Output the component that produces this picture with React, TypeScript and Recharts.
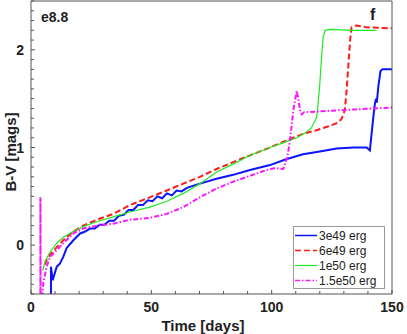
import React from "react";
import { LineChart, Line, XAxis, YAxis, Legend } from "recharts";

// time [days], B-V [mags]
const blue3e49: [number, number][] = [
  [8.3, -0.55], [8.3, -0.22], [9.0, -0.36], [10.7, -0.22], [12.0, -0.19], [13.4, -0.12],
  [14.8, -0.03], [17.6, 0.05], [20.4, 0.12], [22.5, 0.14], [24.5, 0.17], [26.5, 0.17],
  [28.5, 0.21], [30.5, 0.21], [32.5, 0.25], [34.5, 0.25], [36.5, 0.3], [38.5, 0.31],
  [40.5, 0.36], [42.5, 0.36], [44.5, 0.41], [46.5, 0.41], [48.5, 0.46], [50.5, 0.45],
  [52.5, 0.5], [54.5, 0.48], [56.5, 0.53], [58.5, 0.51], [60.5, 0.56], [62.5, 0.55],
  [65, 0.59], [70.2, 0.63], [77.1, 0.68], [84, 0.72], [91, 0.77], [99.3, 0.82],
  [106, 0.88], [113, 0.93], [120, 0.96], [127, 0.99], [134, 1.0], [139.5, 1.0],
  [140.8, 0.97], [142.2, 1.3], [142.9, 1.45], [143.4, 1.5], [143.7, 1.46], [144.3, 1.62],
  [145.2, 1.78], [146, 1.8], [150, 1.8],
];

const red6e49: [number, number][] = [
  [5.8, -0.2], [6.5, -0.15], [7.9, -0.1], [10.7, -0.02], [13.4, 0.05], [17.6, 0.14],
  [21.7, 0.2], [27.3, 0.26], [34.2, 0.32], [41.1, 0.41], [49.4, 0.49], [56.4, 0.56],
  [63.3, 0.63], [70.2, 0.7], [77.1, 0.78], [84, 0.85], [91, 0.92], [99.3, 1.0],
  [106, 1.07], [113, 1.14], [119, 1.18], [124, 1.22], [127, 1.25], [129, 1.29],
  [130.4, 1.38], [131.2, 1.6], [131.8, 1.82], [132.6, 2.1], [133.2, 2.23], [135.3, 2.25],
  [139.5, 2.23], [150, 2.22],
];

const green1e50: [number, number][] = [
  [4.9, -0.26], [5.8, -0.17], [7.9, -0.07], [10.7, 0.02], [13.4, 0.08], [17.6, 0.14],
  [21.7, 0.19], [27.3, 0.24], [34.2, 0.29], [41.1, 0.34], [49.4, 0.39], [56.4, 0.45],
  [63.3, 0.53], [70.2, 0.63], [77.1, 0.75], [84, 0.83], [91, 0.92], [99.3, 1.0],
  [105, 1.05], [110.4, 1.1], [114, 1.15], [116.5, 1.2], [118.7, 1.31], [119.3, 1.45],
  [120, 1.65], [120.8, 1.95], [121.4, 2.13], [122.2, 2.2], [124.2, 2.21], [134, 2.2],
  [143.6, 2.2],
];

const magenta15e50: [number, number][] = [
  [3.9, -0.6], [3.9, 0.49], [4.0, -0.6], [4.5, -0.6], [5.1, -0.39], [6.5, -0.22],
  [7.9, -0.12], [10.7, -0.05], [13.4, 0.02], [17.6, 0.12], [21.7, 0.17], [27.3, 0.2],
  [34.2, 0.22], [41, 0.26], [49.4, 0.28], [56.4, 0.32], [63.3, 0.39], [70.2, 0.49],
  [77.1, 0.58], [84, 0.65], [91, 0.71], [97.9, 0.77], [101.4, 0.79], [104.8, 0.78],
  [106.5, 0.9], [107.6, 1.07], [109, 1.38], [110.4, 1.58], [111.2, 1.48], [111.8, 1.38],
  [112.5, 1.34], [113.5, 1.36], [120, 1.37], [135, 1.39], [150, 1.41],
];

const xTicks = [0, 10, 20, 30, 40, 50, 60, 70, 80, 90, 100, 110, 120, 130, 140, 150];
const xLabels = [0, 50, 100, 150];
const yTicks = [
  -0.5, -0.4, -0.3, -0.2, -0.1, 0, 0.1, 0.2, 0.3, 0.4, 0.5, 0.6, 0.7, 0.8, 0.9, 1, 1.1, 1.2,
  1.3, 1.4, 1.5, 1.6, 1.7, 1.8, 1.9, 2, 2.1, 2.2, 2.3, 2.4, 2.5,
];
const yLabels = [0, 1, 2];

const series = [
  { name: "3e49 erg", data: blue3e49, color: "#0a14ff", width: 2, dash: undefined },
  { name: "6e49 erg", data: red6e49, color: "#ff1a1a", width: 2, dash: "6 3" },
  { name: "1e50 erg", data: green1e50, color: "#1eeb1e", width: 1.2, dash: undefined },
  { name: "1.5e50 erg", data: magenta15e50, color: "#ff14ff", width: 2, dash: "5 2 1.5 2" },
];

const FONT = "'Liberation Sans', Arial, Helvetica, sans-serif";
const AXIS = "#555";

const toPoints = (arr: [number, number][]) => arr.map(([t, v]) => ({ t, v }));

const makeTick = (side: "bottom" | "top" | "left" | "right", labels: number[]) => (props: any) => {
  const { x, y, payload } = props;
  const val = payload.value;
  const major = labels.some((l) => Math.abs(l - val) < 1e-6);
  const len = major ? 4 : 3;
  let x2 = x, y2 = y;
  if (side === "bottom") y2 = y - len;
  if (side === "top") y2 = y + len;
  if (side === "left") x2 = x + len;
  if (side === "right") x2 = x - len;
  return (
    <g>
      <line x1={x} y1={y} x2={x2} y2={y2} stroke={AXIS} strokeWidth={1} />
      {major && side === "bottom" && (
        <text x={x} y={y + 18} textAnchor="middle" fontSize={14} fontWeight="bold" fontFamily={FONT} fill="#222">
          {val}
        </text>
      )}
      {major && side === "left" && (
        <text x={x - 7} y={y + 5} textAnchor="end" fontSize={14} fontWeight="bold" fontFamily={FONT} fill="#222">
          {val}
        </text>
      )}
    </g>
  );
};

const renderLegend = () => (
  <div
    style={{
      border: "1px solid #999",
      background: "#fff",
      width: 90,
      height: 60,
      boxSizing: "content-box",
      paddingTop: 1,
      fontFamily: FONT,
      fontSize: 12,
      color: "#222",
    }}
  >
    {series.map((s) => (
      <div key={s.name} style={{ display: "flex", alignItems: "center", height: 15 }}>
        <svg width={24} height={15} style={{ marginLeft: 1 }}>
          <line x1={0} y1={7.5} x2={22} y2={7.5} stroke={s.color} strokeWidth={s.width === 2 ? 1.5 : 1.2} strokeDasharray={s.dash} />
        </svg>
        <span>{s.name}</span>
      </div>
    ))}
  </div>
);

export default function App() {
  return (
    <div style={{ position: "absolute", left: 0, top: 0, width: 407, height: 334, background: "#fff" }}>
      <LineChart width={407} height={334} margin={{ top: 0, right: 0, bottom: 0, left: 0 }}>
        <XAxis
          dataKey="t"
          type="number"
          domain={[0, 150]}
          ticks={xTicks}
          interval={0}
          allowDataOverflow
          height={40}
          tickSize={0}
          tickMargin={0}
          stroke={AXIS}
          tick={makeTick("bottom", xLabels)}
        />
        <XAxis
          xAxisId="top"
          orientation="top"
          type="number"
          domain={[0, 150]}
          ticks={xTicks}
          interval={0}
          height={1}
          tickSize={0}
          tickMargin={0}
          stroke={AXIS}
          tick={makeTick("top", xLabels)}
        />
        <YAxis
          type="number"
          domain={[-0.5, 2.5]}
          ticks={yTicks}
          interval={0}
          allowDataOverflow
          width={31}
          tickSize={0}
          tickMargin={0}
          stroke={AXIS}
          tick={makeTick("left", yLabels)}
        />
        <YAxis
          yAxisId="right"
          orientation="right"
          type="number"
          domain={[-0.5, 2.5]}
          ticks={yTicks}
          interval={0}
          width={15}
          tickSize={0}
          tickMargin={0}
          stroke={AXIS}
          tick={makeTick("right", yLabels)}
        />
        {series.map((s) => (
          <Line
            key={s.name}
            name={s.name}
            data={toPoints(s.data)}
            dataKey="v"
            type="linear"
            stroke={s.color}
            strokeWidth={s.width}
            strokeDasharray={s.dash}
            dot={false}
            activeDot={false}
            isAnimationActive={false}
          />
        ))}
        <Legend
          layout="vertical"
          align="center"
          verticalAlign="middle"
          content={renderLegend}
          wrapperStyle={{ left: 293, top: 226, width: "auto" }}
        />
      </LineChart>
      <div style={{ position: "absolute", left: 41, top: 9, fontFamily: FONT, fontWeight: "bold", fontSize: 14, color: "#222" }}>
        e8.8
      </div>
      <div style={{ position: "absolute", left: 370, top: 6, fontFamily: FONT, fontWeight: "bold", fontSize: 16, color: "#222" }}>
        f
      </div>
      <div
        style={{
          position: "absolute",
          left: 203,
          top: 325,
          transform: "translate(-50%, -50%)",
          fontFamily: FONT,
          fontWeight: "bold",
          fontSize: 15,
          color: "#222",
          whiteSpace: "nowrap",
        }}
      >
        Time [days]
      </div>
      <div
        style={{
          position: "absolute",
          left: 10,
          top: 152,
          transform: "translate(-50%, -50%) rotate(-90deg)",
          fontFamily: FONT,
          fontWeight: "bold",
          fontSize: 15,
          color: "#222",
          whiteSpace: "nowrap",
        }}
      >
        B-V [mags]
      </div>
    </div>
  );
}
